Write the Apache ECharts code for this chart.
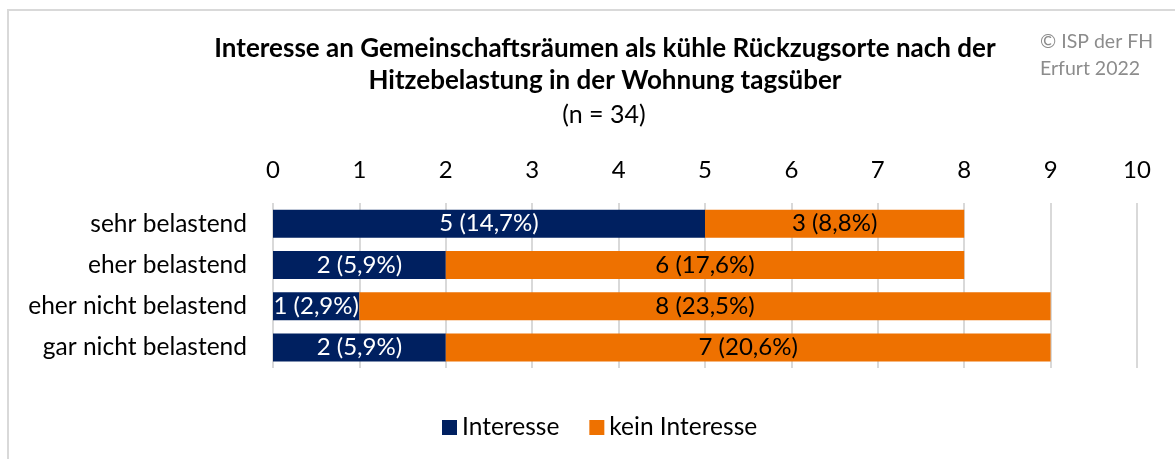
<!DOCTYPE html>
<html lang="de">
<head>
<meta charset="UTF-8">
<title>Interesse an Gemeinschaftsräumen</title>
<style>
    * { margin: 0; padding: 0; }
    html, body { width: 100%; height: 100%; background: #fff; }
    #main { position: absolute; left: 0; top: 0; width: 1175px; height: 459px; }
    /* grauer Rahmen oben und links wie im Original */
    .frame { position: absolute; left: 7px; top: 9px; right: -10px; bottom: -10px;
             border-left: 2px solid #d9d9d9; border-top: 2px solid #d9d9d9; pointer-events: none; }
</style>
</head>
<body>
<div id="main"></div>
<div class="frame"></div>
<script src="https://cdn.jsdelivr.net/npm/echarts@6/dist/echarts.min.js"></script>
<script>
    // Daten
    var categories = ['sehr belastend', 'eher belastend', 'eher nicht belastend', 'gar nicht belastend'];
    var interesse = [5, 2, 1, 2];
    var keinInteresse = [3, 6, 8, 7];
    var n = 34;
    var xTicks = [0, 1, 2, 3, 4, 5, 6, 7, 8, 9, 10];

    var font = 'Lato';

    function labelText(p) {
        var pct = (p.value / n * 100).toFixed(1).replace('.', ',');
        return p.value + ' (' + pct + '%)';
    }

    var myChart = echarts.init(document.getElementById('main'));

    var option = {
        backgroundColor: '#fff',
        textStyle: { fontFamily: font },
        title: [{
            text: 'Interesse an Gemeinschaftsräumen als kühle Rückzugsorte nach der\nHitzebelastung in der Wohnung tagsüber',
            left: 600,
            top: 28,
            textAlign: 'center',
            textStyle: { fontFamily: font, fontSize: 26, fontWeight: 'bold', color: '#000', lineHeight: 32 }
        }, {
            text: '(n = 34)',
            left: 599,
            top: 97,
            textAlign: 'center',
            textStyle: { fontFamily: font, fontSize: 25, fontWeight: 'normal', color: '#000' }
        }, {
            text: '© ISP der FH\nErfurt 2022',
            left: 1035,
            top: 23,
            textStyle: { fontFamily: font, fontSize: 19.5, fontWeight: 'normal', color: '#8c8c8c', lineHeight: 27 }
        }],
        legend: {
            top: 410,
            left: 437,
            itemWidth: 15,
            itemHeight: 15,
            itemGap: 30,
            icon: 'rect',
            textStyle: { fontFamily: font, fontSize: 24.5, color: '#000' },
            data: ['Interesse', 'kein Interesse']
        },
        grid: {
            left: 273,
            right: 38,
            top: 203,
            bottom: 91,
            containLabel: false
        },
        xAxis: {
            type: 'value',
            position: 'top',
            min: xTicks[0],
            max: xTicks[xTicks.length - 1],
            interval: 1,
            axisLine: { show: false },
            axisTick: { show: false },
            axisLabel: { fontFamily: font, fontSize: 24, color: '#000', margin: 21 },
            splitLine: { show: true, lineStyle: { color: '#d9d9d9', width: 2 } }
        },
        yAxis: {
            type: 'category',
            inverse: true,
            data: categories,
            axisLine: { show: false },
            axisTick: { show: false },
            axisLabel: { fontFamily: font, fontSize: 24.5, color: '#000', margin: 26 }
        },
        series: [{
            name: 'Interesse',
            type: 'bar',
            stack: 'total',
            barWidth: 28,
            itemStyle: { color: '#002060' },
            label: { show: true, position: 'inside', color: '#fff', fontFamily: font, fontSize: 24, formatter: labelText },
            data: interesse
        }, {
            name: 'kein Interesse',
            type: 'bar',
            stack: 'total',
            barWidth: 28,
            itemStyle: { color: '#ee7100' },
            label: { show: true, position: 'inside', color: '#000', fontFamily: font, fontSize: 24, formatter: labelText },
            data: keinInteresse
        }]
    };
    myChart.setOption(option);
</script>
</body>
</html>
